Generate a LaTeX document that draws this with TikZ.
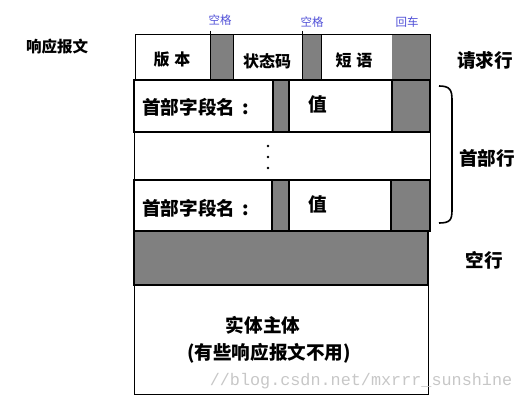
\documentclass[tikz,border=0pt]{standalone}
\usepackage{fontspec}
\setmainfont{Noto Sans CJK SC}
\newfontfamily\wmfont{Liberation Mono}
\definecolor{cellgray}{RGB}{128,128,128}
\definecolor{tagblue}{RGB}{80,80,215}
\begin{document}
\begin{tikzpicture}[x=1pt,y=-1pt,
  thinbox/.style={draw=black,line width=0.9pt},
  thickbox/.style={draw=black,line width=1.4pt},
  grayfill/.style={fill=cellgray},
  lbl/.style={font=\bfseries\fontsize{16}{16}\selectfont,inner sep=0},
  titlelbl/.style={font=\bfseries\fontsize{15.5}{15.5}\selectfont,inner sep=0},
  biglbl/.style={font=\bfseries\fontsize{18.6}{18.6}\selectfont,inner sep=0},
  tag/.style={font=\fontsize{11.5}{11.5}\selectfont,text=tagblue,inner sep=0},
  wm/.style={font=\wmfont\fontsize{16.8}{16.8}\selectfont,text=black!22,inner sep=0}]
\useasboundingbox (0,0) rectangle (524,401);
% request line
\filldraw[thinbox,grayfill] (210,34) rectangle (233,79);
\filldraw[thinbox,grayfill] (302,34) rectangle (321,79);
\fill[grayfill] (392,34) rectangle (430,79);
\draw[thinbox] (135,34) rectangle (430,79);
\draw[thinbox] (210,31) -- (210,34);
\draw[thinbox] (302,31) -- (302,34);
% header line 1
\fill[grayfill] (273,80) rectangle (289,132);
\fill[grayfill] (392,80) rectangle (430,132);
\draw[thickbox] (273,80) -- (273,132) (289,80) -- (289,132) (392,80) -- (392,132);
\draw[thickbox] (134,80) rectangle (430,132);
% dots line
\draw[thinbox] (134,132) rectangle (430,180);
% header line 2
\fill[grayfill] (272,180) rectangle (289,231);
\fill[grayfill] (391,180) rectangle (430,231);
\draw[thickbox] (272,180) -- (272,231) (289,180) -- (289,231) (391,180) -- (391,231);
\draw[thickbox] (134,180) rectangle (430,231);
% empty line
\filldraw[thickbox,grayfill] (134,231) rectangle (428,285);
% body
\draw[thinbox] (134,285) rectangle (428,394);
\draw[thickbox] (134,285) -- (428,285);
% brace
\draw[line width=1.6pt] (439,86) .. controls (450,86) and (452,90) .. (452,100) -- (452,210) .. controls (452,220) and (450,223) .. (439,223);
% dots
\fill (268,146) circle (1.4);
\fill (268,157) circle (1.4);
\fill (268,168) circle (1.4);
% texts
\node[titlelbl] (title) at (57,47) {响应报文};
\node[tag] (sp1) at (220,20) {空格};
\node[tag] (sp2) at (312,22) {空格};
\node[tag] (cr) at (407,22) {回车};
\node[lbl] (ver) at (172,60) {版\hspace{5pt}本};
\node[lbl] (code) at (267,61) {状态码};
\node[lbl] (phr) at (354,60) {短\hspace{5pt}语};
\node[biglbl,anchor=west] (h1) at (142,107) {首部字段名\hspace{7pt}:};
\node[biglbl] (v1) at (318,104) {值};
\node[biglbl,anchor=west] (h2) at (142,208) {首部字段名\hspace{7pt}:};
\node[biglbl] (v2) at (318,204) {值};
\node[biglbl] (reql) at (485,60) {请求行};
\node[biglbl] (hdrl) at (487,158) {首部行};
\node[biglbl] (empl) at (484,260) {空行};
\node[biglbl] (body1) at (263,325) {实体主体};
\node[biglbl] (body2) at (269,353) {(有些响应报文不用)};
\node[wm] (wmark) at (361,381) {//blog.csdn.net/mxrrr\_sunshine};
\end{tikzpicture}
\end{document}
